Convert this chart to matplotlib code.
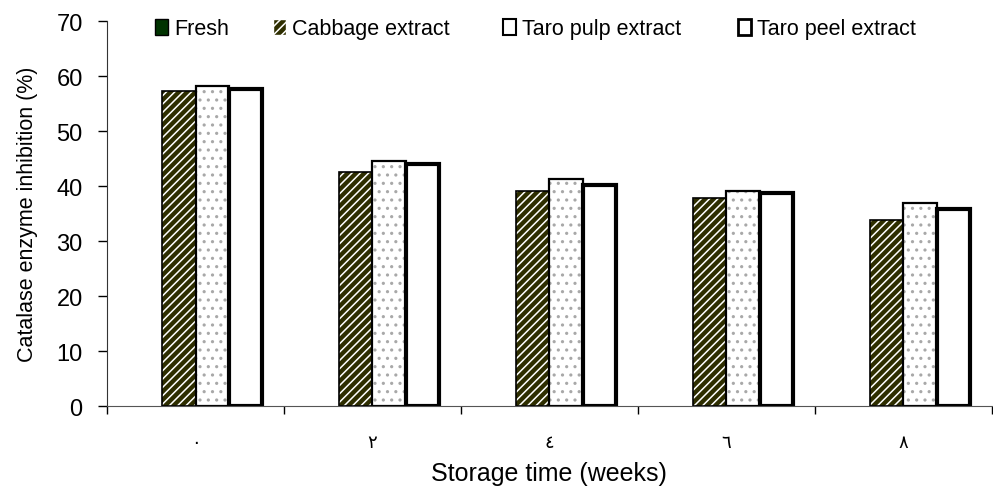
import matplotlib
matplotlib.use("Agg")
import matplotlib.pyplot as plt
from matplotlib.patches import Patch
import numpy as np

plt.rcParams['font.family'] = ['Liberation Sans', 'DejaVu Sans']
plt.rcParams['hatch.linewidth'] = 1.1

categories = ['٠', '٢', '٤', '٦', '٨']
series_names = ['Fresh', 'Cabbage extract', 'Taro pulp extract', 'Taro peel extract']
fresh = [0, 0, 0, 0, 0]
cabbage = [57.3, 42.5, 39.2, 37.9, 33.8]
taro_pulp = [58.2, 44.6, 41.3, 39.1, 37.0]
taro_peel = [57.6, 44.0, 40.2, 38.7, 35.9]
yticks = [0, 10, 20, 30, 40, 50, 60, 70]

fig = plt.figure(figsize=(9.93, 5.02), dpi=100)
ax = fig.add_axes([0.1078, 0.189, 0.891, 0.767])

x = np.arange(len(categories))
w = 0.1875
offs = [-1.5 * w, -0.5 * w, 0.5 * w, 1.5 * w]

# Fresh (no visible bars)
ax.bar(x + offs[0], fresh, w, color='#003300', linewidth=0)
# Cabbage: dark olive with white diagonal stripes
ax.bar(x + offs[1], cabbage, w, color='#2e2e00', edgecolor='white', hatch='////', linewidth=0)
ax.bar(x + offs[1], cabbage, w, fill=False, edgecolor='black', linewidth=1.2)
# Taro pulp: white with grey dots
ax.bar(x + offs[2], taro_pulp, w, color='white', edgecolor='#a8a8a8', hatch='..', linewidth=0)
ax.bar(x + offs[2], taro_pulp, w, fill=False, edgecolor='black', linewidth=1.6)
# Taro peel: white with thick border
ax.bar(x + offs[3], taro_peel, w, color='white', edgecolor='black', linewidth=3.0)

ax.set_xlim(-0.5, len(categories) - 0.5)
ax.set_ylim(0, 70)
ax.set_yticks(yticks)
ax.tick_params(axis='y', labelsize=17, length=6.5, width=1, direction='out', pad=11)
ax.set_xticks(x)
ax.set_xticklabels(categories, fontsize=13)
ax.tick_params(axis='x', which='major', length=0, pad=20)
ax.set_xticks(np.arange(-0.5, len(categories)), minor=True)
ax.tick_params(axis='x', which='minor', length=6, width=1, direction='out')

for s in ['top', 'right']:
    ax.spines[s].set_visible(False)
ax.spines['left'].set_color('#333333')
ax.spines['bottom'].set_color('#555555')

ax.set_ylabel('Catalase enzyme inhibition (%)', fontsize=15.5, labelpad=13)
ax.set_xlabel('Storage time (weeks)', fontsize=18, labelpad=7)

handles = [
    Patch(facecolor='#003300', edgecolor='black', linewidth=1),
    Patch(facecolor='#2e2e00', edgecolor='white', hatch='////', linewidth=1),
    Patch(facecolor='white', edgecolor='black', linewidth=1.5),
    Patch(facecolor='white', edgecolor='black', linewidth=2),
]
leg_x = [155, 273, 503, 738]
for h, name, lx in zip(handles, series_names, leg_x):
    fig.legend([h], [name], loc='center left', bbox_to_anchor=(lx / 993, 1 - 30 / 502),
               frameon=False, fontsize=15.5, handlelength=0.6, handleheight=0.75,
               handletextpad=0.3, borderpad=0, borderaxespad=0)

fig.savefig('out.png', dpi=100)
